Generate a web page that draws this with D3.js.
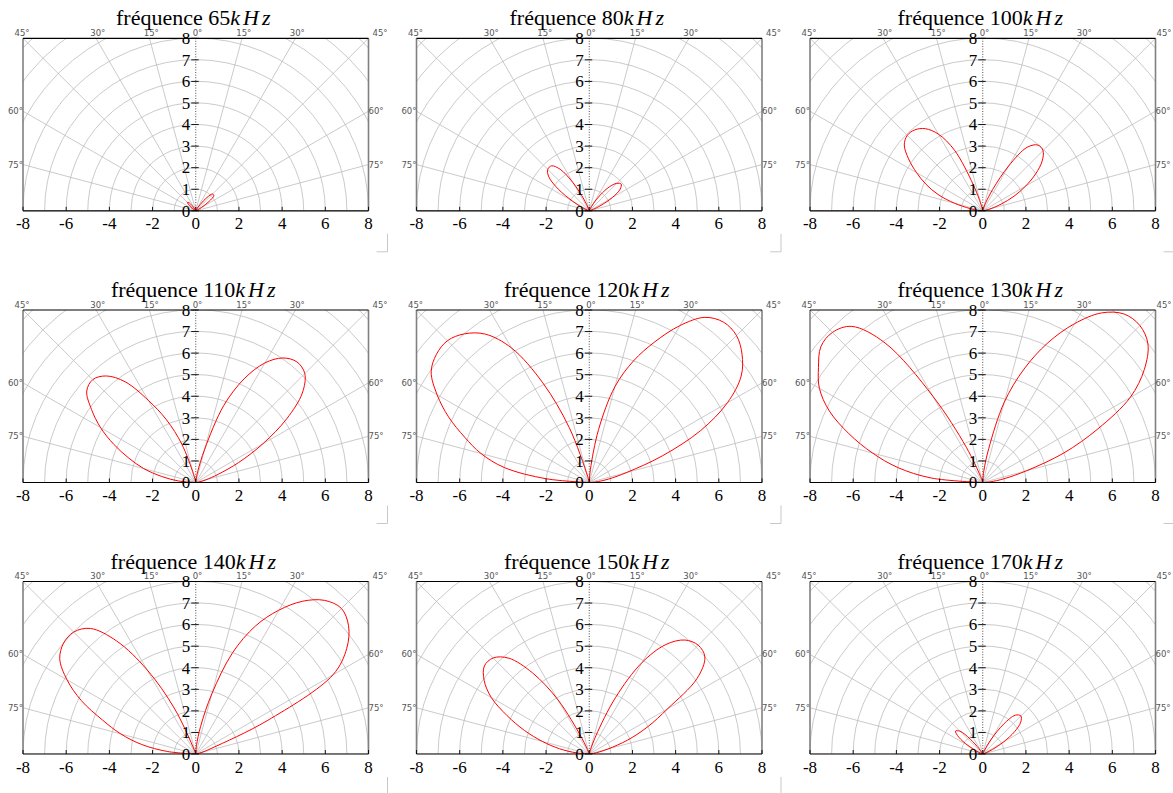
<!DOCTYPE html>
<html>
<head>
<meta charset="utf-8">
<script src="https://cdn.jsdelivr.net/npm/d3@7"></script>
<style>
  html, body { margin: 0; padding: 0; background: #fff; }
  svg { display: block; }
</style>
</head>
<body>
<svg id="chart" width="1173" height="793"></svg>
<script>
// ---------------- DATA ----------------
const frequencies = [65, 80, 100, 110, 120, 130, 140, 150, 170];   // kHz
const angles = [0, 5, 10, 15, 20, 25, 30, 35, 40, 45, 50, 55, 60, 65, 70, 75, 80, 85, 90]; // degrees from vertical
const xTicks = [-8, -6, -4, -2, 0, 2, 4, 6, 8];
const yTicks = [0, 1, 2, 3, 4, 5, 6, 7, 8];
const thetaTop = [-45, -30, -15, 0, 15, 30, 45];
const thetaSide = [60, 75];
const gridRadii = [1, 2, 3, 4, 5, 6, 7, 8, 9, 10, 11];
const gridAngles = [-90, -75, -60, -45, -30, -15, 15, 30, 45, 60, 75, 90];

// radius of the right lobe (positive angles) and left lobe (negative angles), one value per entry of `angles`
const right65  = [0,0,0,0,0,0,0.1,0.35,0.8,1.1,1.1,0.75,0.3,0.08,0,0,0,0,0];
const left65   = [0,0,0,0,0,0,0.1,0.3,0.5,0.55,0.4,0.2,0.05,0,0,0,0,0,0];
const right80  = [0,0,0,0,0,0.1,0.4,0.9,1.45,1.8,1.93,1.75,1.25,0.6,0.2,0.05,0,0,0];
const left80   = [0,0,0,0,0.1,0.6,1.5,2.35,2.72,2.72,2.45,1.75,0.9,0.35,0.1,0,0,0,0];
const right100 = [0,0,0,0.1,0.4,1.1,2.4,3.6,3.98,3.95,3.6,3.0,2.3,1.6,0.9,0.4,0.15,0.05,0];
const left100  = [0,0,0.05,0.3,1.3,3.1,4.1,4.65,4.9,4.95,4.75,4.2,3.55,2.9,2.2,1.35,0.6,0.2,0];
const right110 = [0,0.1,0.5,1.6,3.8,5.3,6.4,7.05,7.3,7.15,6.45,5.15,3.6,2.2,1.1,0.5,0.2,0.05,0];
const left110  = [0,0,0.05,0.4,1.9,3.2,4.4,5.7,6.45,6.75,6.6,5.9,5.1,4.2,3.3,2.5,1.6,0.8,0];
const right120 = [0,0.6,2.5,4.6,6.0,7.2,8.4,9.35,9.7,9.65,9.25,8.6,7.4,5.7,3.6,1.8,0.9,0.3,0];
const left120  = [0,0,0,0.3,2.7,5.1,7.2,8.4,9.0,9.3,9.25,8.95,8.15,7.2,6.15,5.2,4.0,2.0,0];
const right130 = [0,0.5,1.6,3.85,5.6,7.15,8.5,9.6,10.2,10.3,10.0,9.15,7.9,5.9,4.0,2.1,1.0,0.35,0];
const left130  = [0,0,0,0,0.3,1.8,4.6,7.9,9.45,9.85,9.8,9.3,8.75,7.85,6.6,5.3,4.0,2.4,0];
const right140 = [0,0.4,1.3,2.9,5.0,6.55,7.7,8.65,9.3,9.55,9.25,8.55,7.35,3.65,0.8,0.3,0.1,0,0];
const left140  = [0,0,0,0,0.2,2.3,4.5,6.4,7.6,8.0,8.0,7.7,6.9,5.85,4.6,3.6,2.55,1.3,0];
const right150 = [0,0,0,0.1,0.9,2.9,4.9,6.2,6.9,7.14,7.0,6.1,4.2,3.0,1.9,0.9,0.35,0.1,0];
const left150  = [0,0,0,0,0.1,0.8,2.9,4.6,5.8,6.3,6.35,5.95,5.25,4.2,3.2,2.25,1.4,0.6,0];
const right170 = [0,0,0,0,0,0.2,0.8,1.7,2.35,2.5,2.3,1.8,1.1,0.5,0.15,0,0,0,0];
const left170  = [0,0,0,0,0,0,0,0.3,0.9,1.5,1.65,1.35,0.8,0.35,0.1,0,0,0,0];

const rightLobes = [right65, right80, right100, right110, right120, right130, right140, right150, right170];
const leftLobes  = [left65, left80, left100, left110, left120, left130, left140, left150, left170];

// ---------------- LAYOUT ----------------
const panelLeft = [23, 416.5, 810];
const panelTop = [38.3, 310, 581.5];
const W = 345.5, H = 172.5;

const svg = d3.select("#chart");
const defs = svg.append("defs");
defs.append("clipPath").attr("id", "frameClip")
  .append("rect").attr("x", 0).attr("y", 0).attr("width", W).attr("height", H);

const serif = "'Liberation Serif', 'Times New Roman', serif";
const sans = "'DejaVu Sans', sans-serif";
const rad = d => d * Math.PI / 180;

// keep only one origin point at each end of a lobe
function lobePoints(rs, sign) {
  const pts = angles.map((a, i) => [sign * rad(a), rs[i]]);
  return pts.filter((p, i) => {
    if (p[1] > 0) return true;
    const prev = i > 0 ? pts[i - 1][1] : 0;
    const next = i < pts.length - 1 ? pts[i + 1][1] : 0;
    return prev > 0 || next > 0;
  });
}

frequencies.forEach((f, k) => {
  const col = k % 3, row = Math.floor(k / 3);
  const g = svg.append("g").attr("transform", `translate(${panelLeft[col]},${panelTop[row]})`);
  const x = d3.scaleLinear().domain([-8, 8]).range([0, W]);
  const y = d3.scaleLinear().domain([0, 8]).range([H, 0]);
  const r = d3.scaleLinear().domain([0, 8]).range([0, H]);
  const ox = x(0), oy = y(0);

  // polar grid
  const grid = g.append("g").attr("clip-path", "url(#frameClip)");
  grid.selectAll("circle.arc").data(gridRadii).enter().append("circle")
    .attr("cx", ox).attr("cy", oy).attr("r", d => x(d) - x(0))
    .attr("fill", "none").attr("stroke", "#bcbcbc").attr("stroke-width", 0.8);
  grid.selectAll("line.ray").data(gridAngles).enter().append("line")
    .attr("x1", ox).attr("y1", oy)
    .attr("x2", d => x(12 * Math.sin(rad(d))))
    .attr("y2", d => y(12 * Math.cos(rad(d))))
    .attr("stroke", "#bcbcbc").attr("stroke-width", 0.8);
  // 0 degree dotted line
  g.append("line").attr("x1", ox).attr("x2", ox).attr("y1", y(0)).attr("y2", y(8))
    .attr("stroke", "#222").attr("stroke-width", 0.8).attr("stroke-dasharray", "1,1.6");

  // lobes
  const lobeLine = d3.lineRadial().angle(d => d[0]).radius(d => r(d[1])).curve(d3.curveCatmullRom.alpha(0.5));
  const lobes = g.append("g").attr("clip-path", "url(#frameClip)")
    .append("g").attr("transform", `translate(${ox},${oy})`);
  [lobePoints(rightLobes[k], 1), lobePoints(leftLobes[k], -1)].forEach(pts => {
    lobes.append("path").attr("d", lobeLine(pts))
      .attr("fill", "none").attr("stroke", "#ff0000").attr("stroke-width", 1);
  });

  // spines
  g.append("line").attr("x1", 0).attr("x2", 0).attr("y1", 0).attr("y2", H).attr("stroke", "#808080").attr("stroke-width", 1.6);
  g.append("line").attr("x1", W).attr("x2", W).attr("y1", 0).attr("y2", H).attr("stroke", "#808080").attr("stroke-width", 1.6);
  g.append("line").attr("x1", 0).attr("x2", W).attr("y1", 0).attr("y2", 0).attr("stroke", "#000").attr("stroke-width", 1.2);
  g.append("line").attr("x1", 0).attr("x2", W).attr("y1", H).attr("y2", H).attr("stroke", "#000").attr("stroke-width", 1.2);

  // x axis ticks and labels
  g.selectAll("line.xt").data(xTicks).enter().append("line")
    .attr("x1", d => x(d)).attr("x2", d => x(d)).attr("y1", H).attr("y2", H - 4)
    .attr("stroke", "#000").attr("stroke-width", 0.9);
  g.selectAll("text.xl").data(xTicks).enter().append("text")
    .attr("x", d => x(d)).attr("y", H + 18.5).attr("text-anchor", "middle")
    .attr("font-family", serif).attr("font-size", 17).attr("fill", "#000")
    .text(d => d < 0 ? "-" + Math.abs(d) : String(d));

  // y axis (centered) ticks and labels
  g.selectAll("line.yt").data(yTicks).enter().append("line")
    .attr("x1", ox - 4.5).attr("x2", ox + 3).attr("y1", d => y(d)).attr("y2", d => y(d))
    .attr("stroke", "#000").attr("stroke-width", 0.9);
  g.selectAll("text.yl").data(yTicks).enter().append("text")
    .attr("x", ox - 5.5).attr("y", d => y(d)).attr("dy", "0.34em").attr("text-anchor", "end")
    .attr("font-family", serif).attr("font-size", 17).attr("fill", "#000")
    .text(d => d);

  // angle labels
  g.selectAll("text.tt").data(thetaTop).enter().append("text")
    .attr("x", d => {
      if (d === -45) return x(-8) - 1;
      if (d === 45) return x(8) + (col === 2 ? 1 : 4);
      return x(8 * Math.tan(rad(d))) + 1.8;
    })
    .attr("y", -2.3)
    .attr("text-anchor", d => d === 45 ? "start" : "middle")
    .attr("font-family", sans).attr("font-size", 8.5).attr("fill", "#555")
    .text(d => Math.abs(d) + "°");
  thetaSide.forEach(a => {
    const yy = y(8 / Math.tan(rad(a)));
    g.append("text").attr("x", 0).attr("y", yy).attr("dy", "0.35em").attr("text-anchor", "end")
      .attr("font-family", sans).attr("font-size", 8.5).attr("fill", "#555").text(a + "°");
    g.append("text").attr("x", W).attr("y", yy).attr("dy", "0.35em").attr("text-anchor", "start")
      .attr("font-family", sans).attr("font-size", 8.5).attr("fill", "#555").text(a + "°");
  });

  // title
  const t = g.append("text").attr("x", W / 2 - 1).attr("y", -13).attr("text-anchor", "middle")
    .attr("font-family", serif).attr("font-size", 22).attr("fill", "#000");
  t.append("tspan").text("fréquence " + f);
  t.append("tspan").attr("font-style", "italic").attr("letter-spacing", "3px").text("kHz");

  // small corner mark under each panel
  g.append("path")
    .attr("d", `M${W + 19},${H + 23}L${W + 19},${H + 41}L${W + 8},${H + 41}`)
    .attr("fill", "none").attr("stroke", "#c8c8c8").attr("stroke-width", 1);
});
</script>
</body>
</html>
